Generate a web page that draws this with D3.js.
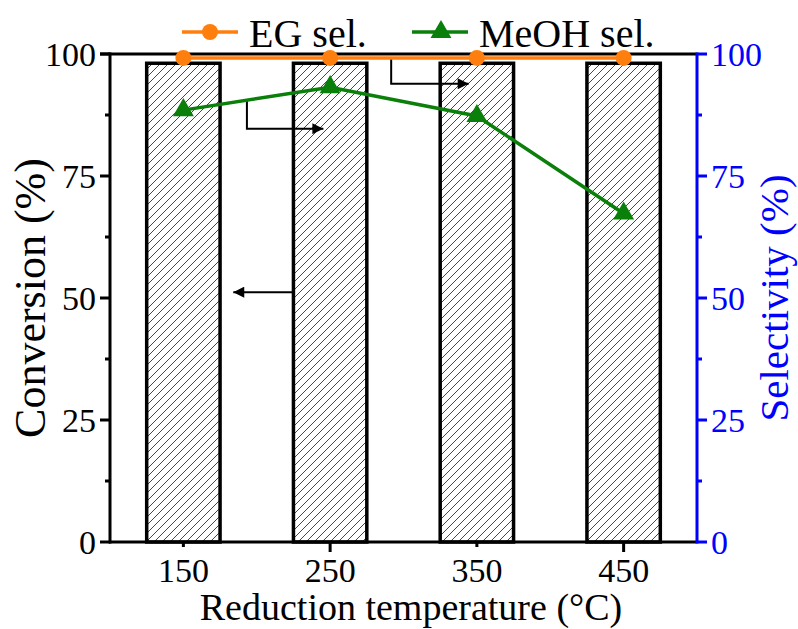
<!DOCTYPE html>
<html>
<head>
<meta charset="utf-8">
<script src="https://cdn.jsdelivr.net/npm/d3@7"></script>
<style>
  body { margin: 0; background: #fff; }
</style>
</head>
<body>
<script>
// data
const temps = [150, 250, 350, 450]
const conversion = [98.1, 98.1, 98.1, 98.1]
const egSel = [99.2, 99.2, 99.2, 99.2]
const meohSel = [88.5, 93.2, 87.3, 67.3]
const yTicks = [0, 25, 50, 75, 100]
const yMinor = [12.5, 37.5, 62.5, 87.5]
const xLongTicks = [250, 450]
const xShortTicks = [150, 350]

// annotation arrows, in data units: [x, y] points, last one gets the head
const arrows = [
  [[225, 51.2], [184, 51.2]],
  [[193.3, 90.6], [193.3, 84.7], [245.4, 84.7]],
  [[291.6, 99.2], [291.6, 93.9], [344.4, 93.9]]
]

const width = 798
const height = 629
const margin = { left: 110, right: 101, top: 54, bottom: 87 }
const serif = "'Liberation Serif', 'Times New Roman', Times, 'DejaVu Serif', serif"

const svg = d3.select('body').append('svg')
  .attr('width', width)
  .attr('height', height)
  .style('font-family', serif)

const x = d3.scaleLinear().domain([100, 500]).range([margin.left, width - margin.right])
const y = d3.scaleLinear().domain([0, 100]).range([height - margin.bottom, margin.top])
const y2 = d3.scaleLinear().domain([0, 100]).range([height - margin.bottom, margin.top])

const blue = '#0000ff'
const orange = '#ff7f0e'
const green = '#0a7f0a'

// hatch fill for the bars
const defs = svg.append('defs')
defs.append('pattern')
  .attr('id', 'hatch')
  .attr('patternUnits', 'userSpaceOnUse')
  .attr('width', 8)
  .attr('height', 8)
  .append('path')
  .attr('d', 'M-1,1 l2,-2 M0,8 l8,-8 M7,9 l2,-2')
  .attr('stroke', '#333')
  .attr('stroke-width', 0.9)

defs.append('marker')
  .attr('id', 'head')
  .attr('viewBox', '0 0 10 10')
  .attr('refX', 10)
  .attr('refY', 5)
  .attr('markerUnits', 'userSpaceOnUse')
  .attr('markerWidth', 15)
  .attr('markerHeight', 11)
  .attr('orient', 'auto')
  .append('path')
  .attr('d', 'M0,0 L10,5 L0,10 Z')
  .attr('fill', '#000')

// bars
const barW = x(125) - x(100)
svg.append('g').selectAll('rect')
  .data(temps)
  .enter()
  .append('rect')
  .attr('x', d => x(d) - barW)
  .attr('y', (d, i) => y(conversion[i]))
  .attr('width', barW * 2)
  .attr('height', (d, i) => y(0) - y(conversion[i]))
  .attr('fill', 'url(#hatch)')
  .attr('stroke', '#000')
  .attr('stroke-width', 3.5)

// axes
const axisG = svg.append('g')

// bottom
axisG.append('line')
  .attr('x1', x(100) - 1).attr('x2', x(500))
  .attr('y1', y(0)).attr('y2', y(0))
  .attr('stroke', '#000').attr('stroke-width', 3)
axisG.selectAll('.xtl')
  .data(xLongTicks)
  .enter().append('line')
  .attr('x1', d => x(d)).attr('x2', d => x(d))
  .attr('y1', y(0)).attr('y2', y(0) + 10)
  .attr('stroke', '#000').attr('stroke-width', 3)
axisG.selectAll('.xts')
  .data(xShortTicks)
  .enter().append('line')
  .attr('x1', d => x(d)).attr('x2', d => x(d))
  .attr('y1', y(0)).attr('y2', y(0) + 5)
  .attr('stroke', '#000').attr('stroke-width', 3)
axisG.selectAll('.xlab')
  .data(temps)
  .enter().append('text')
  .attr('x', d => x(d))
  .attr('y', y(0) + 40)
  .attr('text-anchor', 'middle')
  .attr('font-size', 34)
  .text(d => d)

// top frame
axisG.append('line')
  .attr('x1', x(100) - 10).attr('x2', x(500))
  .attr('y1', y(100)).attr('y2', y(100))
  .attr('stroke', '#000').attr('stroke-width', 3)

// left
axisG.append('line')
  .attr('x1', x(100)).attr('x2', x(100))
  .attr('y1', y(0) + 1.5).attr('y2', y(100) - 1.5)
  .attr('stroke', '#000').attr('stroke-width', 3)
axisG.selectAll('.yt')
  .data(yTicks)
  .enter().append('line')
  .attr('x1', x(100) - 10).attr('x2', x(100))
  .attr('y1', d => y(d)).attr('y2', d => y(d))
  .attr('stroke', '#000').attr('stroke-width', 3)
axisG.selectAll('.ym')
  .data(yMinor)
  .enter().append('line')
  .attr('x1', x(100) - 5).attr('x2', x(100))
  .attr('y1', d => y(d)).attr('y2', d => y(d))
  .attr('stroke', '#000').attr('stroke-width', 3)
axisG.selectAll('.ylab')
  .data(yTicks)
  .enter().append('text')
  .attr('x', x(100) - 14)
  .attr('y', d => y(d) + 12)
  .attr('text-anchor', 'end')
  .attr('font-size', 34)
  .text(d => d)

// right
axisG.append('line')
  .attr('x1', x(500)).attr('x2', x(500))
  .attr('y1', y2(0) + 1.5).attr('y2', y2(100) - 1.5)
  .attr('stroke', blue).attr('stroke-width', 3)
axisG.selectAll('.y2t')
  .data(yTicks)
  .enter().append('line')
  .attr('x1', x(500)).attr('x2', x(500) + 10)
  .attr('y1', d => y2(d)).attr('y2', d => y2(d))
  .attr('stroke', blue).attr('stroke-width', 3)
axisG.selectAll('.y2m')
  .data(yMinor)
  .enter().append('line')
  .attr('x1', x(500)).attr('x2', x(500) + 5)
  .attr('y1', d => y2(d)).attr('y2', d => y2(d))
  .attr('stroke', blue).attr('stroke-width', 3)
axisG.selectAll('.y2lab')
  .data(yTicks)
  .enter().append('text')
  .attr('x', x(500) + 14)
  .attr('y', d => y2(d) + 12)
  .attr('fill', blue)
  .attr('font-size', 34)
  .text(d => d)

// axis titles
svg.append('text')
  .attr('transform', `translate(45,${(y(0) + y(100)) / 2}) rotate(-90)`)
  .attr('text-anchor', 'middle')
  .attr('font-size', 44)
  .text('Conversion (%)')

svg.append('text')
  .attr('transform', `translate(788,${(y(0) + y(100)) / 2}) rotate(-90)`)
  .attr('text-anchor', 'middle')
  .attr('font-size', 41)
  .attr('fill', blue)
  .text('Selectivity (%)')

svg.append('text')
  .attr('x', 411)
  .attr('y', 620)
  .attr('text-anchor', 'middle')
  .attr('font-size', 38)
  .text('Reduction temperature (°C)')

// arrows
const arrowLine = d3.line().x(d => x(d[0])).y(d => y(d[1]))
svg.append('g').selectAll('path')
  .data(arrows)
  .enter().append('path')
  .attr('d', arrowLine)
  .attr('fill', 'none')
  .attr('stroke', '#000')
  .attr('stroke-width', 2)
  .attr('marker-end', 'url(#head)')

// selectivity lines
const lineFor = vals => d3.line().x((d, i) => x(temps[i])).y(d => y2(d))(vals)

svg.append('path')
  .attr('d', lineFor(egSel))
  .attr('fill', 'none')
  .attr('stroke', orange)
  .attr('stroke-width', 3.5)
svg.append('g').selectAll('circle')
  .data(egSel)
  .enter().append('circle')
  .attr('cx', (d, i) => x(temps[i]))
  .attr('cy', d => y2(d))
  .attr('r', 8)
  .attr('fill', orange)

svg.append('path')
  .attr('d', lineFor(meohSel))
  .attr('fill', 'none')
  .attr('stroke', green)
  .attr('stroke-width', 3.5)
const tri = d3.symbol().type(d3.symbolTriangle).size(190)
svg.append('g').selectAll('path')
  .data(meohSel)
  .enter().append('path')
  .attr('d', tri)
  .attr('transform', (d, i) => `translate(${x(temps[i])},${y2(d)})`)
  .attr('fill', green)

// legend
const legend = [
  { name: 'EG sel.', color: orange, shape: 'circle', x0: 182 },
  { name: 'MeOH sel.', color: green, shape: 'triangle', x0: 412 }
]
const lg = svg.append('g').selectAll('g')
  .data(legend)
  .enter().append('g')
  .attr('transform', d => `translate(${d.x0},32)`)
lg.append('line')
  .attr('x1', 0).attr('x2', 56)
  .attr('stroke', d => d.color)
  .attr('stroke-width', 3.5)
lg.filter(d => d.shape === 'circle').append('circle')
  .attr('cx', 28).attr('r', 8)
  .attr('fill', d => d.color)
lg.filter(d => d.shape === 'triangle').append('path')
  .attr('d', tri)
  .attr('transform', 'translate(29,0)')
  .attr('fill', d => d.color)
lg.append('text')
  .attr('x', 67)
  .attr('y', 15)
  .attr('font-size', 40)
  .text(d => d.name)
</script>
</body>
</html>
